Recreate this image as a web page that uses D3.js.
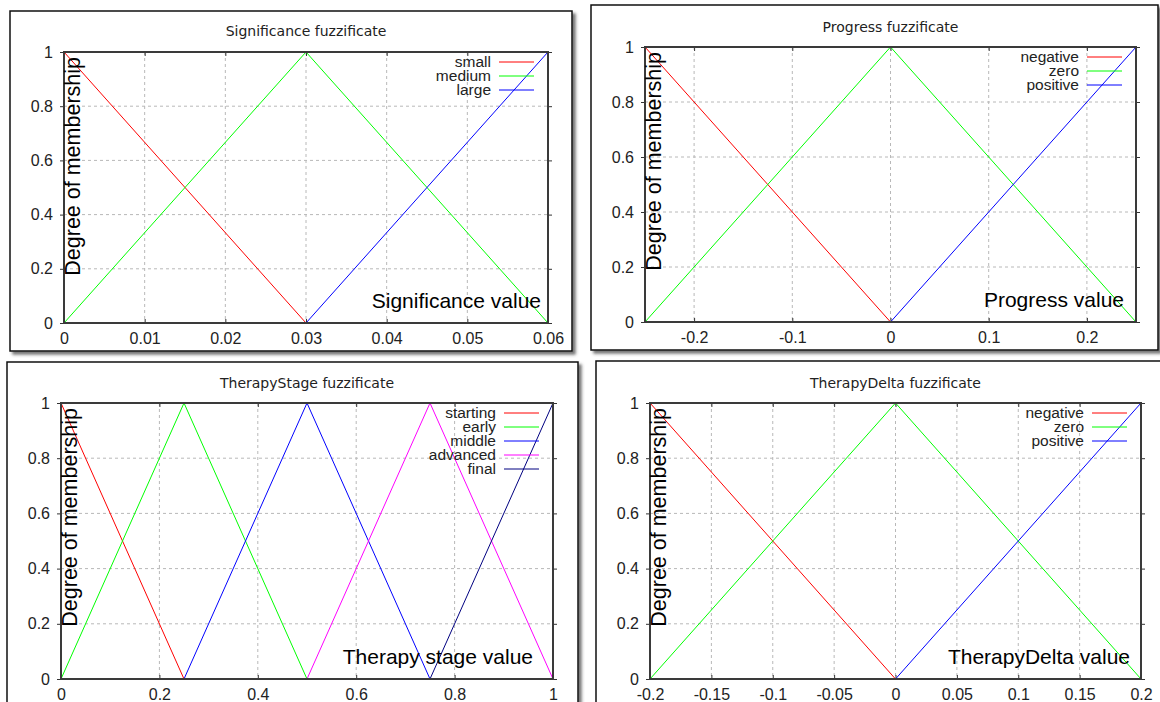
<!DOCTYPE html>
<html>
<head>
<meta charset="utf-8">
<script src="https://cdn.jsdelivr.net/npm/d3@7"></script>
<style>
  html, body { margin: 0; padding: 0; background: #fff; }
  svg { display: block; font-family: "Liberation Sans", Arial, sans-serif; }
</style>
</head>
<body>
<div id="chart"></div>
<script>
// ---- data ----
const yTicks = [0, 0.2, 0.4, 0.6, 0.8, 1];

const sigTicks = [0, 0.01, 0.02, 0.03, 0.04, 0.05, 0.06];
const sigNames = ["small", "medium", "large"];
const sigValues = [
    [[0, 1], [0.03, 0]],
    [[0, 0], [0.03, 1], [0.06, 0]],
    [[0.03, 0], [0.06, 1]]
];

const progTicks = [-0.2, -0.1, 0, 0.1, 0.2];
const progNames = ["negative", "zero", "positive"];
const progValues = [
    [[-0.25, 1], [0, 0]],
    [[-0.25, 0], [0, 1], [0.25, 0]],
    [[0, 0], [0.25, 1]]
];

const stageTicks = [0, 0.2, 0.4, 0.6, 0.8, 1];
const stageNames = ["starting", "early", "middle", "advanced", "final"];
const stageValues = [
    [[0, 1], [0.25, 0]],
    [[0, 0], [0.25, 1], [0.5, 0]],
    [[0.25, 0], [0.5, 1], [0.75, 0]],
    [[0.5, 0], [0.75, 1], [1, 0]],
    [[0.75, 0], [1, 1]]
];

const deltaTicks = [-0.2, -0.15, -0.1, -0.05, 0, 0.05, 0.1, 0.15, 0.2];
const deltaNames = ["negative", "zero", "positive"];
const deltaValues = [
    [[-0.2, 1], [0, 0]],
    [[-0.2, 0], [0, 1], [0.2, 0]],
    [[0, 0], [0.2, 1]]
];

const seriesColors = ["#ff0000", "#00ff00", "#0000ff", "#ff00ff", "#000080"];

// ---- layout ----
const panels = [
    { title: "Significance fuzzificate", xLabel: "Significance value", xGap: 7,
      domain: [0, 0.06], ticks: sigTicks, names: sigNames, values: sigValues,
      frame: { x: 10, y: 11, w: 562, h: 340 }, plot: { l: 64, t: 52, r: 548, b: 323 }, titleY: 36 },
    { title: "Progress fuzzificate", xLabel: "Progress value", xGap: 12,
      domain: [-0.25, 0.25], ticks: progTicks, names: progNames, values: progValues,
      frame: { x: 591, y: 5, w: 567, h: 345 }, plot: { l: 645, t: 47, r: 1136, b: 322 }, titleY: 32 },
    { title: "TherapyStage fuzzificate", xLabel: "Therapy stage value", xGap: 20,
      domain: [0, 1], ticks: stageTicks, names: stageNames, values: stageValues,
      frame: { x: 7, y: 362, w: 571, h: 360 }, plot: { l: 61, t: 403, r: 553, b: 679 }, titleY: 388 },
    { title: "TherapyDelta fuzzificate", xLabel: "TherapyDelta value", xGap: 11,
      domain: [-0.2, 0.2], ticks: deltaTicks, names: deltaNames, values: deltaValues,
      frame: { x: 596, y: 361, w: 580, h: 360 }, plot: { l: 650, t: 403, r: 1141, b: 679 }, titleY: 388 }
];

const width = 1160, height = 702;
const svg = d3.select("#chart").append("svg")
    .attr("width", width)
    .attr("height", height);

svg.append("defs").append("filter")
    .attr("id", "shadow")
    .attr("x", "-5%").attr("y", "-5%").attr("width", "110%").attr("height", "110%")
    .append("feDropShadow")
    .attr("dx", 3).attr("dy", 3)
    .attr("stdDeviation", 1.5)
    .attr("flood-color", "#555")
    .attr("flood-opacity", 0.8);

// plain hyphen for negatives, like the original
const fmt = d => String(+d.toFixed(4));

panels.forEach(p => {
    const f = p.frame, pl = p.plot;

    // window frame
    svg.append("rect")
        .attr("x", f.x).attr("y", f.y)
        .attr("width", f.w).attr("height", f.h)
        .attr("fill", "#fff")
        .attr("stroke", "#111")
        .attr("stroke-width", 1.5)
        .attr("filter", "url(#shadow)");

    const x = d3.scaleLinear().domain(p.domain).range([pl.l, pl.r]);
    const y = d3.scaleLinear().domain([0, 1]).range([pl.b, pl.t]);

    const g = svg.append("g");

    // grid
    g.selectAll(".vgrid").data(p.ticks).join("line")
        .attr("x1", d => x(d)).attr("x2", d => x(d))
        .attr("y1", pl.t).attr("y2", pl.b)
        .attr("stroke", "#b8b8b8")
        .attr("stroke-dasharray", "3,3");
    g.selectAll(".hgrid").data(yTicks).join("line")
        .attr("x1", pl.l).attr("x2", pl.r)
        .attr("y1", d => y(d)).attr("y2", d => y(d))
        .attr("stroke", "#b8b8b8")
        .attr("stroke-dasharray", "3,3");

    // axes
    const xAxis = d3.axisBottom(x).tickValues(p.ticks).tickSize(-4).tickSizeOuter(0).tickPadding(10).tickFormat(fmt);
    const yAxis = d3.axisLeft(y).tickValues(yTicks).tickSize(4).tickSizeOuter(0).tickPadding(7).tickFormat(fmt);

    const gx = g.append("g").attr("transform", `translate(0,${pl.b})`).call(xAxis);
    const gy = g.append("g").attr("transform", `translate(${pl.l},0)`).call(yAxis);
    const gyr = g.append("g").attr("transform", `translate(${pl.r},0)`)
        .call(d3.axisRight(y).tickValues(yTicks).tickSize(4).tickSizeOuter(0).tickFormat(""));
    const gxt = g.append("g").attr("transform", `translate(0,${pl.t})`)
        .call(d3.axisTop(x).tickValues(p.ticks).tickSize(-4).tickSizeOuter(0).tickFormat(""));

    [gx, gy, gyr, gxt].forEach(a => {
        a.select(".domain").remove();
        a.selectAll("line").attr("stroke", "#333");
        a.selectAll("text")
            .attr("fill", "#222")
            .style("font-size", "16px")
            .style("font-family", "'Liberation Sans', Arial, sans-serif");
    });

    // series lines
    const line = d3.line().x(d => x(d[0])).y(d => y(d[1]));
    g.selectAll(".series").data(p.values).join("path")
        .attr("d", line)
        .attr("fill", "none")
        .attr("stroke", (d, i) => seriesColors[i])
        .attr("stroke-width", 1);

    // plot border
    g.append("rect")
        .attr("x", pl.l).attr("y", pl.t)
        .attr("width", pl.r - pl.l).attr("height", pl.b - pl.t)
        .attr("fill", "none")
        .attr("stroke", "#3a3a3a")
        .attr("stroke-width", 2);

    // title
    svg.append("text")
        .attr("x", (pl.l + pl.r) / 2)
        .attr("y", p.titleY)
        .attr("text-anchor", "middle")
        .attr("fill", "#222")
        .style("font-family", "'DejaVu Sans', sans-serif")
        .style("font-size", "14px")
        .text(p.title);

    // axis labels
    svg.append("text")
        .attr("transform", `translate(${pl.l + 16},${pl.t + 5}) rotate(-90)`)
        .attr("text-anchor", "end")
        .attr("fill", "#000")
        .style("font-size", "21.5px")
        .text("Degree of membership");

    svg.append("text")
        .attr("x", pl.r - p.xGap)
        .attr("y", pl.b - 15)
        .attr("text-anchor", "end")
        .attr("fill", "#000")
        .style("font-size", "21px")
        .text(p.xLabel);

    // legend
    const lg = svg.append("g");
    p.names.forEach((name, i) => {
        const ly = pl.t + 10 + i * 14;
        lg.append("text")
            .attr("x", pl.r - 57)
            .attr("y", ly + 5)
            .attr("text-anchor", "end")
            .attr("fill", "#222")
            .style("font-size", "15.5px")
            .text(name);
        lg.append("line")
            .attr("x1", pl.r - 49).attr("x2", pl.r - 14)
            .attr("y1", ly).attr("y2", ly)
            .attr("stroke", seriesColors[i])
            .attr("stroke-width", 1);
    });
});
</script>
</body>
</html>
